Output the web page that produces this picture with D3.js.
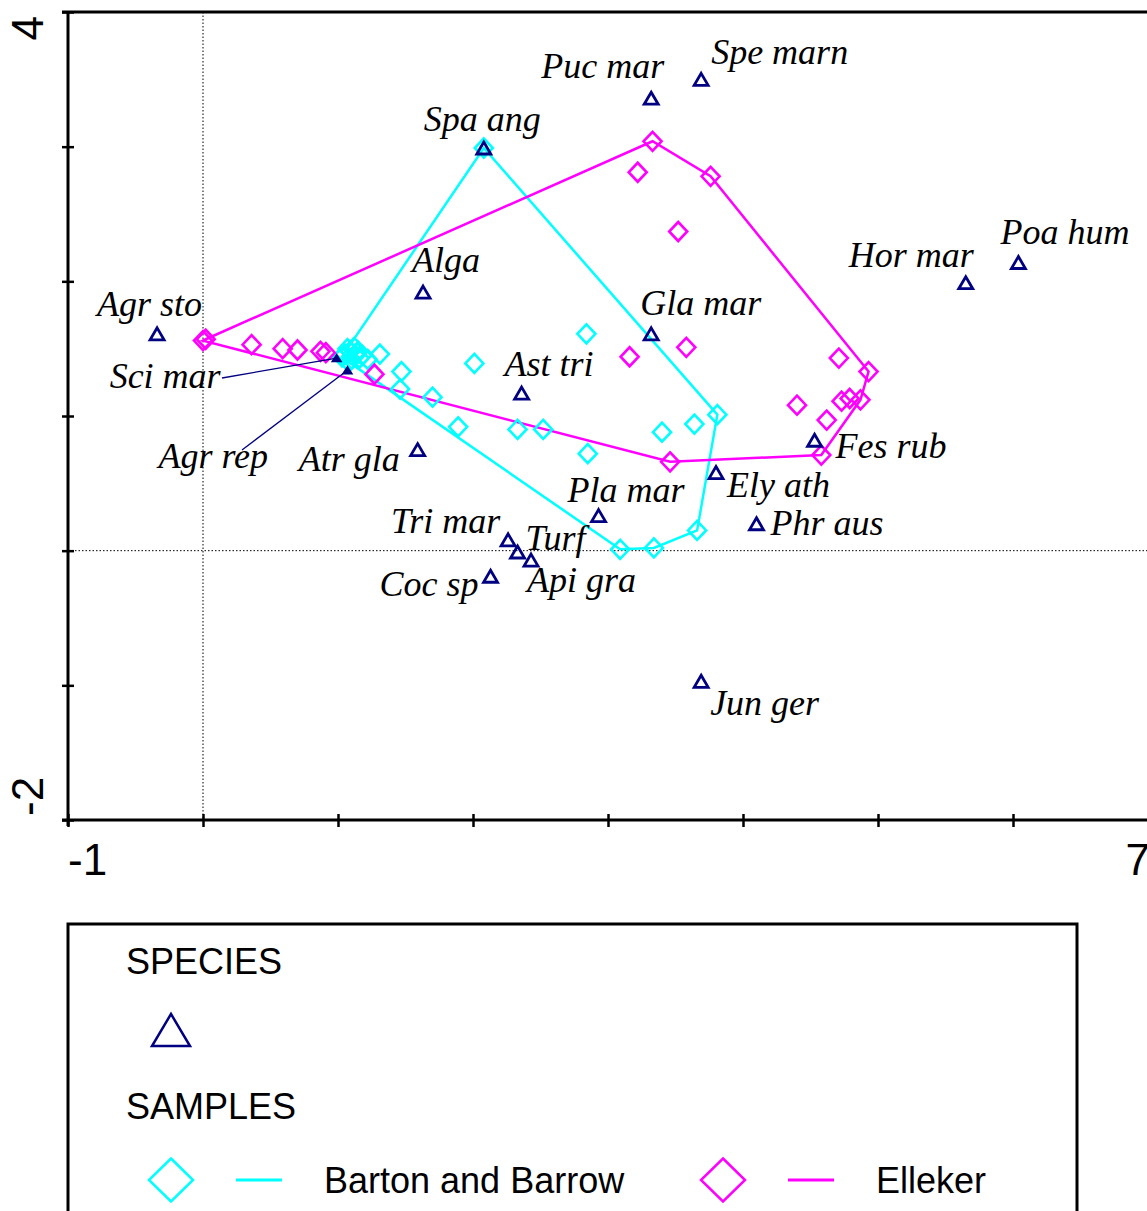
<!DOCTYPE html>
<html>
<head>
<meta charset="utf-8">
<script src="https://cdn.jsdelivr.net/npm/d3@7"></script>
<style>
  body { margin: 0; background: #fff; }
  .spLabel { font-family: "Liberation Serif", "Times New Roman", serif; font-style: italic; font-size: 36px; fill: #000; }
  .axLabel { font-family: "Liberation Sans", Arial, sans-serif; font-size: 44px; fill: #000; }
  .lgText { font-family: "Liberation Sans", Arial, sans-serif; font-size: 36px; fill: #000; }
</style>
</head>
<body>
<svg width="1147" height="1211"></svg>
<script>
// species scores (axis 1, axis 2)
const speciesNames = ["Agr sto", "Sci mar", "Agr rep", "Atr gla", "Alga", "Spa ang", "Puc mar", "Spe marn",
  "Gla mar", "Ast tri", "Hor mar", "Poa hum", "Fes rub", "Ely ath", "Phr aus", "Pla mar",
  "Tri mar", "Turf", "Api gra", "Coc sp", "Jun ger"];
const speciesX = [-0.34, 0.99, 1.07, 1.59, 1.63, 2.08, 3.32, 3.69,
  3.32, 2.36, 5.65, 6.04, 4.53, 3.80, 4.10, 2.93,
  2.26, 2.33, 2.43, 2.13, 3.69];
const speciesY = [1.61, 1.43, 1.34, 0.75, 1.92, 2.99, 3.36, 3.50,
  1.61, 1.17, 1.99, 2.14, 0.82, 0.58, 0.20, 0.26,
  0.08, -0.01, -0.07, -0.19, -0.97];

// sample scores per site
const bartonX = [2.08, 2.84, 2.01, 1.31, 1.22, 1.47, 1.46, 1.70, 1.89, 2.33, 2.52, 2.85, 3.40, 3.64, 3.81,
  3.66, 3.34, 3.09, 1.05, 1.09, 1.13, 1.15, 1.10, 1.18, 1.03, 1.07, 1.12, 1.16, 1.08, 1.14];
const bartonY = [2.99, 1.61, 1.39, 1.46, 1.42, 1.33, 1.20, 1.14, 0.92, 0.90, 0.90, 0.72, 0.88, 0.94, 1.01,
  0.15, 0.02, 0.01, 1.46, 1.48, 1.45, 1.48, 1.42, 1.45, 1.44, 1.50, 1.51, 1.43, 1.40, 1.47];
const ellekerX = [0.00, 0.02, 0.36, 0.59, 0.70, 0.87, 0.91, 1.27, 3.33, 3.22, 3.76, 3.52, 3.58, 3.16,
  4.71, 4.93, 4.40, 4.62, 4.73, 4.79, 4.87, 4.58, 3.46];
const ellekerY = [1.56, 1.57, 1.53, 1.50, 1.49, 1.48, 1.47, 1.31, 3.04, 2.81, 2.78, 2.37, 1.51, 1.44,
  1.43, 1.33, 1.08, 0.97, 1.11, 1.13, 1.12, 0.71, 0.66];

const xTickLabels = ["-1", "7"];
const yTickLabels = ["4", "-2"];
const groupNames = ["Barton and Barrow", "Elleker"];

// label placement (pixel offset from the point to the label's left baseline)
const labelOffset = {
  "Agr sto": [-60, -18], "Sci mar": [-227, 30], "Agr rep": [-189, 98], "Atr gla": [-119, 21],
  "Alga": [-11, -20], "Spa ang": [-60, -17], "Puc mar": [-110, -20], "Spe marn": [10, -15],
  "Gla mar": [-11, -19], "Ast tri": [-17, -17], "Hor mar": [-117, -16], "Poa hum": [-18, -18],
  "Fes rub": [21, 18], "Ely ath": [11, 24], "Phr aus": [14, 11], "Pla mar": [-31, -14],
  "Tri mar": [-117, -7], "Turf": [8, -2], "Api gra": [-4, 32], "Coc sp": [-111, 20], "Jun ger": [9, 34]
};
const leader = { "Sci mar": [222, 378], "Agr rep": [242, 450] };

const NAVY = "#000080", CYAN = "#00ffff", MAGENTA = "#ff00ff";

const svg = d3.select("svg");
const x = d3.scaleLinear().domain([-1, 7]).range([68, 1148]);
const y = d3.scaleLinear().domain([-2, 4]).range([820, 12]);

const triPath = (w, h) => `M0,${-h / 2}L${w / 2},${h / 2}L${-w / 2},${h / 2}Z`;
const diaPath = (w, h) => `M0,${-h}L${w},0L0,${h}L${-w},0Z`;

// reference lines through origin
svg.append("line").attr("x1", x(0)).attr("x2", x(0)).attr("y1", y(4)).attr("y2", y(-2))
  .attr("stroke", "#000").attr("stroke-width", 1).attr("stroke-dasharray", "1.5,2");
svg.append("line").attr("x1", x(-1)).attr("x2", x(7)).attr("y1", y(0)).attr("y2", y(0))
  .attr("stroke", "#000").attr("stroke-width", 1).attr("stroke-dasharray", "1.5,2");

// frame + axes
svg.append("line").attr("x1", x(-1) - 6).attr("x2", 1147).attr("y1", y(4)).attr("y2", y(4))
  .attr("stroke", "#000").attr("stroke-width", 3);
const yAxis = d3.axisLeft(y).tickValues(d3.range(-2, 5)).tickSize(6).tickFormat("");
const gy = svg.append("g").attr("transform", `translate(${x(-1)},0)`).call(yAxis);
gy.selectAll(".tick line").attr("x2", -6).attr("x1", 6).attr("stroke-width", 2.5);
gy.select(".domain").attr("stroke-width", 3).attr("d", `M0,${y(4)}V${y(-2) + 6}`);
const xAxis = d3.axisBottom(x).tickValues(d3.range(-1, 8)).tickSize(6).tickFormat("");
const gx = svg.append("g").attr("transform", `translate(0,${y(-2)})`).call(xAxis);
gx.selectAll(".tick line").attr("y1", -6).attr("y2", 7).attr("stroke-width", 2.5);
gx.select(".domain").attr("stroke-width", 3).attr("d", `M${x(-1) - 6},0H1147`);

svg.append("text").attr("class", "axLabel").attr("x", x(-1)).attr("y", y(-2) + 55).text(xTickLabels[0]);
svg.append("text").attr("class", "axLabel").attr("x", x(7) + 2).attr("y", y(-2) + 55)
  .attr("text-anchor", "end").text(xTickLabels[1]);
svg.append("text").attr("class", "axLabel").attr("text-anchor", "end")
  .attr("transform", `translate(43,${y(4) + 4}) rotate(-90)`).text(yTickLabels[0]);
svg.append("text").attr("class", "axLabel").attr("text-anchor", "start")
  .attr("transform", `translate(43,${y(-2) - 4}) rotate(-90)`).text(yTickLabels[1]);

// sample groups: hull + diamonds
const groups = [
  { xs: bartonX, ys: bartonY, color: CYAN },
  { xs: ellekerX, ys: ellekerY, color: MAGENTA }
];
groups.forEach(g => {
  const pts = g.xs.map((v, i) => [x(v), y(g.ys[i])]);
  const hull = d3.polygonHull(pts);
  svg.append("path").attr("d", "M" + hull.join("L") + "Z")
    .attr("fill", "none").attr("stroke", g.color).attr("stroke-width", 2.5);
});
groups.forEach(g => {
  svg.append("g").selectAll("path").data(g.xs.map((v, i) => [v, g.ys[i]])).join("path")
    .attr("d", diaPath(9, 9.5))
    .attr("transform", d => `translate(${x(d[0])},${y(d[1])})`)
    .attr("fill", "none").attr("stroke", g.color).attr("stroke-width", 2.6);
});

// species
const species = speciesNames.map((n, i) => ({ name: n, px: x(speciesX[i]), py: y(speciesY[i]) }));
species.forEach(s => {
  if (leader[s.name]) {
    svg.append("line").attr("x1", leader[s.name][0]).attr("y1", leader[s.name][1])
      .attr("x2", s.px).attr("y2", s.py).attr("stroke", NAVY).attr("stroke-width", 1.3);
    svg.append("path").attr("d", triPath(9, 7)).attr("transform", `translate(${s.px},${s.py})`)
      .attr("fill", NAVY).attr("stroke", NAVY).attr("stroke-width", 1.5);
  } else {
    svg.append("path").attr("d", triPath(14, 12)).attr("transform", `translate(${s.px},${s.py})`)
      .attr("fill", "none").attr("stroke", NAVY).attr("stroke-width", 2.8);
  }
});
svg.append("g").selectAll("text").data(species).join("text")
  .attr("class", "spLabel")
  .attr("x", d => d.px + labelOffset[d.name][0])
  .attr("y", d => d.py + labelOffset[d.name][1])
  .text(d => d.name);

// legend
const lg = svg.append("g");
lg.append("rect").attr("x", 68).attr("y", 924).attr("width", 1009).attr("height", 320)
  .attr("fill", "none").attr("stroke", "#000").attr("stroke-width", 3);
lg.append("text").attr("class", "lgText").attr("x", 126).attr("y", 974).text("SPECIES");
lg.append("path").attr("d", triPath(38, 32)).attr("transform", "translate(171,1030)")
  .attr("fill", "none").attr("stroke", NAVY).attr("stroke-width", 2.5);
lg.append("text").attr("class", "lgText").attr("x", 126).attr("y", 1119).text("SAMPLES");
const lgItems = [
  { name: groupNames[0], color: CYAN, cx: 171 },
  { name: groupNames[1], color: MAGENTA, cx: 723 }
];
lgItems.forEach(it => {
  lg.append("path").attr("d", diaPath(22, 21.5)).attr("transform", `translate(${it.cx},1180)`)
    .attr("fill", "none").attr("stroke", it.color).attr("stroke-width", 2.5);
  lg.append("line").attr("x1", it.cx + 65).attr("x2", it.cx + 111).attr("y1", 1180).attr("y2", 1180)
    .attr("stroke", it.color).attr("stroke-width", 3);
  lg.append("text").attr("class", "lgText").attr("x", it.cx + 153).attr("y", 1193).text(it.name);
});
</script>
</body>
</html>
